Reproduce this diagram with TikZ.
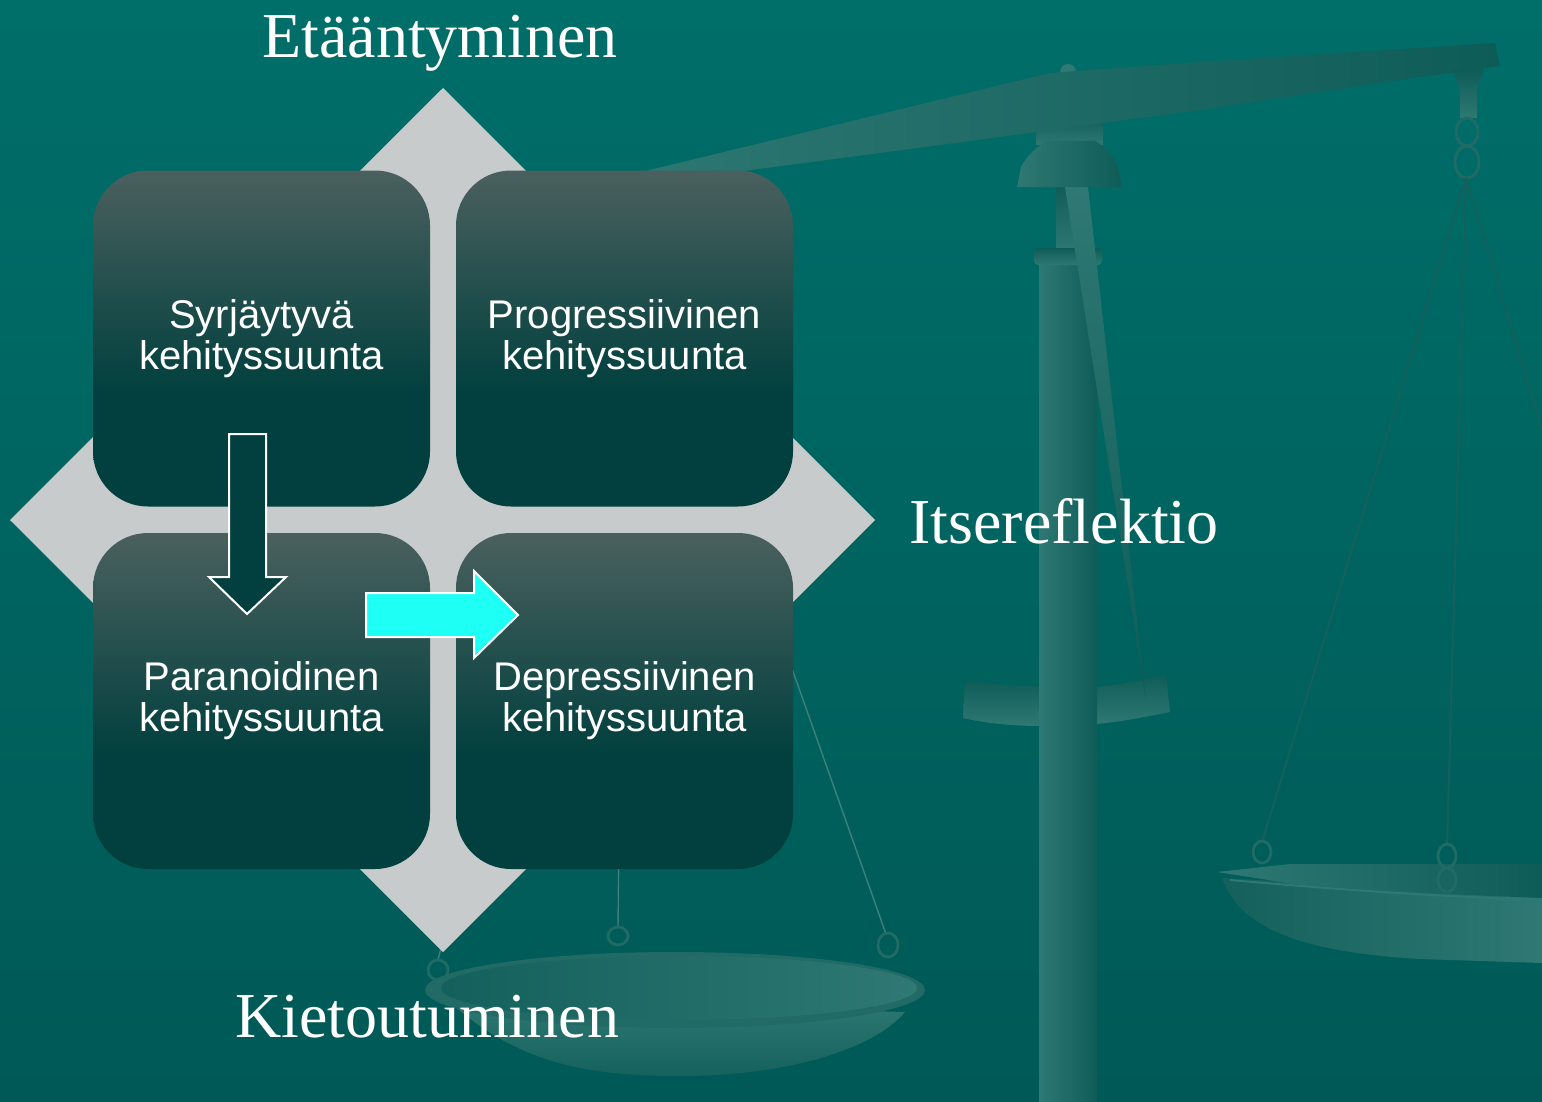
\documentclass[tikz,border=0pt]{standalone}
\usepackage{fontspec}
\setmainfont{Liberation Serif}
\newfontfamily\arialfont{Liberation Sans}
\definecolor{bgtop}{RGB}{0,110,105}
\definecolor{bgbot}{RGB}{0,89,86}
\definecolor{scl}{RGB}{47,120,115}
\definecolor{scm}{RGB}{33,106,101}
\definecolor{scd}{RGB}{14,92,88}
\definecolor{boxtop}{RGB}{74,96,94}
\definecolor{boxdark}{RGB}{1,64,62}
\definecolor{diag}{RGB}{200,203,203}
\definecolor{cyanarrow}{RGB}{30,255,245}
\definecolor{strdark}{RGB}{20,96,92}
\definecolor{strlight}{RGB}{62,128,123}
\pgfdeclareverticalshading{boxshade}{100bp}{color(0bp)=(boxdark); color(42bp)=(boxdark); color(75bp)=(boxtop); color(100bp)=(boxtop)}
\tikzset{
  quad/.style={rectangle, rounded corners=27.5pt, minimum width=168.5pt, minimum height=168pt,
    inner sep=0pt, shade, shading=boxshade, text=white, align=center,
    font=\arialfont\fontsize{20}{20.5}\selectfont},
  biglabel/.style={text=white, inner sep=0pt, font=\fontsize{32}{38}\selectfont},
  blockarrow/.style={draw=white, line width=1pt, line join=miter},
  hook/.style={draw=scm, line width=1.4pt},
}
\begin{document}
\begin{tikzpicture}[x=0.5pt, y=-0.5pt]
\useasboundingbox (0,0) rectangle (1542,1102);
% background
\shade[top color=bgtop, bottom color=bgbot] (0,0) rectangle (1542,1102);

% ---------- left pan (behind the diagram) ----------
\coordinate (lhang) at (626,200);
\draw[strlight, line width=0.7pt] (lhang) -- (618,926);
\draw[strlight, line width=0.7pt] (lhang) -- (886,934);
\draw[strlight, line width=0.7pt] (lhang) -- (438,960);
\shade[top color=scl, bottom color=scd!80!scl] (448,1000) .. controls (520,1068) and (600,1076) .. (680,1076)
  .. controls (790,1076) and (875,1048) .. (905,1012) -- cycle;
\fill[scm] (675,990) ellipse [x radius=250, y radius=38];
\shade[left color=scd!70!scm, right color=scl] (679,988) ellipse [x radius=238, y radius=32];
\draw[hook] (618,936) ellipse [x radius=10, y radius=9];
\draw[hook] (888,945) ellipse [x radius=10, y radius=12];
\draw[hook] (438,970) ellipse [x radius=10, y radius=10];

% ---------- scale stand ----------
\shade[top color=scd, bottom color=scl] (965,680) .. controls (990,684) and (1015,686) .. (1040,686)
  -- (1040,726) .. controls (1010,726) and (985,723) .. (963,718) -- cycle;
\shade[top color=scd, bottom color=scl] (1096,687) .. controls (1120,685) and (1145,680) .. (1166,674)
  -- (1170,712) .. controls (1145,717) and (1120,722) .. (1096,724) -- cycle;
\shade[left color=scl, right color=scd] (1039,262) rectangle (1097,1102);
\shade[top color=scd, bottom color=scl] (1056,185) rectangle (1076,250);
\shade[top color=scd, bottom color=scl, rounded corners=2pt] (1034,248) rectangle (1102,265);
\shade[top color=scl, bottom color=scd] (1065,187) -- (1088,187) -- (1146,700) -- cycle;
\shade[top color=scd, bottom color=scl] (1036,115) rectangle (1103,145);
\fill[scl] (1068,72) circle (4pt);
\shade[left color=scl, middle color=scm, right color=scd] (600,182) -- (1050,73) -- (1200,62) -- (1495,43)
  -- (1500,66) -- (1380,83) -- (1200,110) -- (1000,137) -- (600,190) -- cycle;
\shade[left color=scl, right color=scd] (1047,141) -- (1095,141) .. controls (1105,146) and (1114,157) .. (1118,167)
  -- (1122,187) -- (1017,187) -- (1021,167) .. controls (1026,157) and (1037,146) .. (1047,141) -- cycle;
% right hanger
\shade[top color=scd, bottom color=scl] (1452,69) -- (1484,69) -- (1477,90) -- (1477,118) -- (1460,118) -- (1460,90) -- cycle;
\draw[hook] (1467,132) ellipse [x radius=11, y radius=14];
\draw[hook] (1467,162) ellipse [x radius=12, y radius=16];
\coordinate (rhang) at (1466,178);
\draw[strdark, line width=1pt] (rhang) -- (1262,842);
\draw[strdark, line width=1pt] (rhang) -- (1447,846);
\draw[strdark, line width=1pt] (rhang) -- (1542,430);
% right pan
\shade[left color=scd!70!scm, right color=scl] (1222,878) .. controls (1240,928) and (1300,952) .. (1420,959)
  -- (1542,963) -- (1542,895) -- cycle;
\shade[left color=scl, right color=scd] (1217,872) -- (1290,864) -- (1542,864) -- (1542,898)
  -- (1440,894) -- (1300,885) -- cycle;
\draw[scl, line width=1pt] (1230,880) .. controls (1300,886) and (1400,895) .. (1542,900);
\draw[hook] (1262,852) ellipse [x radius=9, y radius=11];
\draw[hook] (1447,856) ellipse [x radius=9, y radius=12];
\draw[hook] (1447,880) ellipse [x radius=9, y radius=12];

% ---------- diagram ----------
\fill[diag] (443,88) -- (875,520) -- (443,952) -- (10,520) -- cycle;
\node[quad] (syr)  at (261.5,338.5) {Syrjäytyvä\\kehityssuunta};
\node[quad] (prog) at (624.5,338.5) {Progressiivinen\\kehityssuunta};
\node[quad] (para) at (261.5,701) {Paranoidinen\\kehityssuunta};
\node[quad] (depr) at (624.5,701) {Depressiivinen\\kehityssuunta};
% block arrows
\filldraw[blockarrow, fill=boxdark] (229,434) -- (266,434) -- (266,577) -- (286,577) -- (247,614)
  -- (209,577) -- (229,577) -- cycle;
\filldraw[blockarrow, fill=cyanarrow] (366,593) -- (474,593) -- (474,571) -- (518,615) -- (474,658)
  -- (474,637) -- (366,637) -- cycle;
% labels
\node[biglabel, anchor=base] (eta) at (440,58) {Etääntyminen};
\node[biglabel, anchor=base west] (its) at (909,543) {Itsereflektio};
\node[biglabel, anchor=base] (kie) at (427,1037) {Kietoutuminen};
\end{tikzpicture}
\end{document}
